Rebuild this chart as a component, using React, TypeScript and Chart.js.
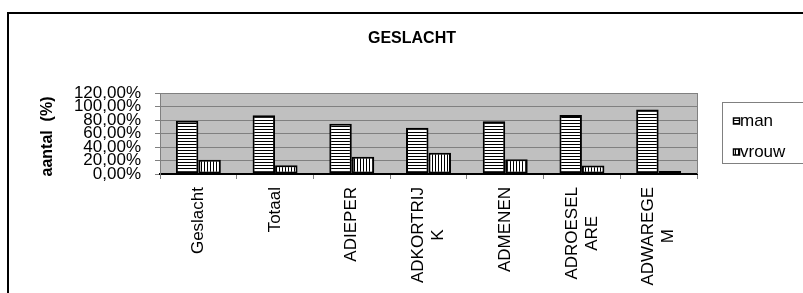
import React, { useEffect, useRef } from 'react';
import { Chart, registerables } from 'chart.js';

Chart.register(...registerables);

const chartTitle = 'GESLACHT';
const yAxisTitle = 'aantal  (%)';
const categories: string[][] = [
  ['Geslacht'],
  ['Totaal'],
  ['ADIEPER'],
  ['ADKORTRIJ', 'K'],
  ['ADMENEN'],
  ['ADROESEL', 'ARE'],
  ['ADWAREGE', 'M'],
];
const seriesNames = ['man', 'vrouw'];
const manValues = [79, 87, 74.5, 68.5, 78, 87.5, 95.5];
const vrouwValues = [21, 13, 25.5, 31.5, 22, 12.5, 4.5];
const yMin = 0;
const yMax = 120;
const yStep = 20;

const FONT = '"Liberation Sans", Arial, sans-serif';

function makePattern(ctx: CanvasRenderingContext2D, dir: 'h' | 'v') {
  const c = document.createElement('canvas');
  c.width = 3;
  c.height = 3;
  const g = c.getContext('2d')!;
  g.fillStyle = '#ffffff';
  g.fillRect(0, 0, 3, 3);
  g.fillStyle = '#000000';
  if (dir === 'h') g.fillRect(0, 0, 3, 1);
  else g.fillRect(0, 0, 1, 3);
  return ctx.createPattern(c, 'repeat') as CanvasPattern;
}

export default function App() {
  const ref = useRef<HTMLCanvasElement>(null);

  useEffect(() => {
    const canvas = ref.current!;
    const ctx = canvas.getContext('2d')!;
    const manPat = makePattern(ctx, 'h');
    const vrouwPat = makePattern(ctx, 'v');

    const backgroundPlugin = {
      id: 'bgFrame',
      beforeDraw(chart: any) {
        const { ctx: c, chartArea: a, width, height } = chart;
        c.save();
        c.fillStyle = '#ffffff';
        c.fillRect(0, 0, width, height);
        c.strokeStyle = '#000000';
        c.lineWidth = 2;
        c.beginPath();
        c.moveTo(8, height + 4);
        c.lineTo(8, 13);
        c.lineTo(width + 4, 13);
        c.stroke();
        c.fillStyle = '#c0c0c0';
        c.fillRect(a.left, a.top, a.right - a.left, a.bottom - a.top);
        c.restore();
      },
      beforeDatasetsDraw(chart: any) {
        const { ctx: c, chartArea: a } = chart;
        c.save();
        c.strokeStyle = '#808080';
        c.lineWidth = 1;
        c.beginPath();
        c.moveTo(Math.round(a.right) + 0.5, a.top);
        c.lineTo(Math.round(a.right) + 0.5, a.bottom);
        c.stroke();
        c.restore();
      },
      afterDraw(chart: any) {
        const { ctx: c } = chart;
        const xs = chart.scales.x;
        const ys = chart.scales.y;
        c.save();
        // chart title
        c.fillStyle = '#000000';
        c.font = 'bold 16px ' + FONT;
        c.textAlign = 'center';
        c.textBaseline = 'middle';
        c.fillText(chartTitle, 412, 39);
        // y axis title
        c.save();
        c.font = 'bold 16px ' + FONT;
        c.translate(48, (ys.top + ys.bottom) / 2 + 3);
        c.rotate(-Math.PI / 2);
        c.fillText(yAxisTitle, 0, 0);
        c.restore();
        // x category labels, rotated, reading upward
        c.font = '17px ' + FONT;
        c.textBaseline = 'middle';
        c.textAlign = 'center';
        const labels = chart.data.labels as string[][];
        const lh = 20;
        labels.forEach((lines, i) => {
          const x = xs.getPixelForTick(i);
          const w0 = c.measureText(lines[0]).width;
          c.save();
          c.translate(x, 187);
          c.rotate(-Math.PI / 2);
          lines.forEach((ln, j) => {
            c.fillText(ln, -w0 / 2, (j - (lines.length - 1) / 2) * lh);
          });
          c.restore();
        });
        // legend
        const lx = 722, ly = 102, lw = 82, lhh = 61;
        c.strokeStyle = '#808080';
        c.lineWidth = 1;
        c.strokeRect(lx + 0.5, ly + 0.5, lw, lhh);
        c.font = '17px ' + FONT;
        c.textAlign = 'left';
        c.textBaseline = 'middle';
        chart.data.datasets.forEach((ds: any, i: number) => {
          const cy = 121 + i * 31;
          c.fillStyle = ds.backgroundColor;
          c.fillRect(733.5, cy - 3, 6, 6);
          c.strokeStyle = '#000000';
          c.lineWidth = 1.5;
          c.strokeRect(733.5, cy - 3, 6, 6);
          c.fillStyle = '#000000';
          c.fillText(ds.label, 740, cy);
        });
        c.restore();
      },
    };

    const chart = new Chart(canvas, {
      type: 'bar',
      data: {
        labels: categories as any,
        datasets: [
          {
            label: seriesNames[0],
            data: manValues,
            backgroundColor: manPat as any,
            borderColor: '#000000',
            borderWidth: 2,
            borderSkipped: false,
            categoryPercentage: 0.586,
            barPercentage: 1,
          },
          {
            label: seriesNames[1],
            data: vrouwValues,
            backgroundColor: vrouwPat as any,
            borderColor: '#000000',
            borderWidth: 2,
            borderSkipped: false,
            categoryPercentage: 0.586,
            barPercentage: 1,
          },
        ],
      },
      options: {
        responsive: false,
        animation: false,
        devicePixelRatio: 1,
        layout: { padding: { left: 0, right: 106, top: 93, bottom: 0 } },
        plugins: {
          legend: { display: false },
          tooltip: { enabled: false },
          title: { display: false },
        },
        scales: {
          x: {
            type: 'category',
            offset: true,
            grid: {
              display: true,
              drawOnChartArea: false,
              drawTicks: true,
              tickLength: 5,
              color: '#808080',
              offset: true,
            },
            border: { display: true, color: '#000000', width: 2 },
            ticks: { display: false },
            afterFit(scale: any) {
              scale.height = 119;
            },
          },
          y: {
            type: 'linear',
            min: yMin,
            max: yMax,
            grid: {
              color: '#808080',
              lineWidth: 1,
              drawTicks: true,
              tickLength: 5,
            },
            border: { display: true, color: '#808080', width: 1 },
            ticks: {
              stepSize: yStep,
              autoSkip: false,
              padding: 14,
              color: '#000000',
              font: { family: FONT, size: 17 },
              callback: (v: any) => Number(v).toFixed(2).replace('.', ',') + '%',
            },
            afterFit(scale: any) {
              scale.width = 160;
            },
          },
        },
      },
      plugins: [backgroundPlugin],
    });

    return () => chart.destroy();
  }, []);

  return (
    <div style={{ position: 'absolute', left: 0, top: 0, width: 803, height: 293 }}>
      <canvas ref={ref} width={803} height={293} style={{ display: 'block', width: 803, height: 293 }} />
    </div>
  );
}
